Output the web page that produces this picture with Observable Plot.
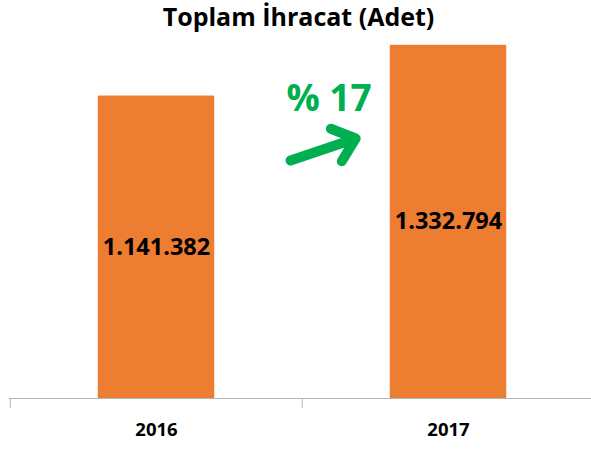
<!DOCTYPE html>
<html>
<head>
<meta charset="utf-8">
<script src="https://cdn.jsdelivr.net/npm/d3@7"></script>
<script src="https://cdn.jsdelivr.net/npm/@observablehq/plot@0.6"></script>
<style>
  html, body { margin: 0; padding: 0; background: #fff; }
  #wrap { position: relative; width: 591px; height: 449px; overflow: hidden; }
  #title { position: absolute; left: 3px; top: 4px; width: 591px; text-align: center;
    font-family: "Open Sans", sans-serif; font-weight: 700; font-size: 25px; line-height: 25px; color: #000; }
  #chart { position: absolute; left: 0; top: 0; }
</style>
</head>
<body>
<div id="wrap">
  <div id="chart"></div>
  <div id="title">Toplam İhracat (Adet)</div>
</div>
<script>
const years = ["2016", "2017"];
const exports = [1141382, 1332794];
const yMax = 1400000;
// growth arrow annotation (data units)
const arrowFrom = 726800;
const arrowTo = 1100000;

const data = years.map((year, i) => ({year, value: exports[i]}));
const growth = Math.round((exports[1] / exports[0] - 1) * 100);

const fmt = d3.formatLocale({decimal: ",", thousands: ".", grouping: [3], currency: ["", ""]}).format(",d");

const W = 591, H = 449, mL = 9, mR = -3, mT = 27, mB = 51;
const step = (W - mL - mR) / years.length;
const barW = 117;
const inset = (step - barW) / 2;
const font = "Open Sans, sans-serif";

const plot = Plot.plot({
  width: W,
  height: H,
  marginLeft: mL,
  marginRight: mR,
  marginTop: mT,
  marginBottom: mB,
  style: {fontFamily: font, background: "#fff", overflow: "visible"},
  x: {domain: years, padding: 0, axis: null},
  y: {domain: [0, yMax], axis: null},
  marks: [
    Plot.barY(data, {x: "year", y: "value", fill: "#ED7D31", insetLeft: inset, insetRight: inset}),
    Plot.ruleY([0], {stroke: "#b4b4b4", strokeWidth: 1}),
    Plot.ruleX(years, {x: d => d, y1: 0, y2: 0, dx: -step / 2, insetBottom: -10, stroke: "#b4b4b4", strokeWidth: 1}),
    Plot.axisX({tickSize: 0, tickPadding: 24, fontSize: 18.5, fontWeight: "bold", fill: "#000", label: null}),
    Plot.text(data, {x: "year", y: d => d.value / 2, text: d => fmt(d.value), fontSize: 23.5, fontWeight: "bold", fill: "#000"}),
    Plot.text([`% ${growth}`], {frameAnchor: "top", lineAnchor: "middle", dx: 27, dy: 72, fontSize: 37, fontWeight: "bold", fill: "#00B050"}),
    Plot.arrow([{}], {x1: () => years[0], x2: () => years[1], y1: () => arrowFrom, y2: () => arrowTo,
      insetStart: 141.5, insetEnd: 98, stroke: "#00B050", strokeWidth: 10, headLength: 4, headAngle: 80})
  ]
});
document.getElementById("chart").appendChild(plot);
</script>
</body>
</html>
